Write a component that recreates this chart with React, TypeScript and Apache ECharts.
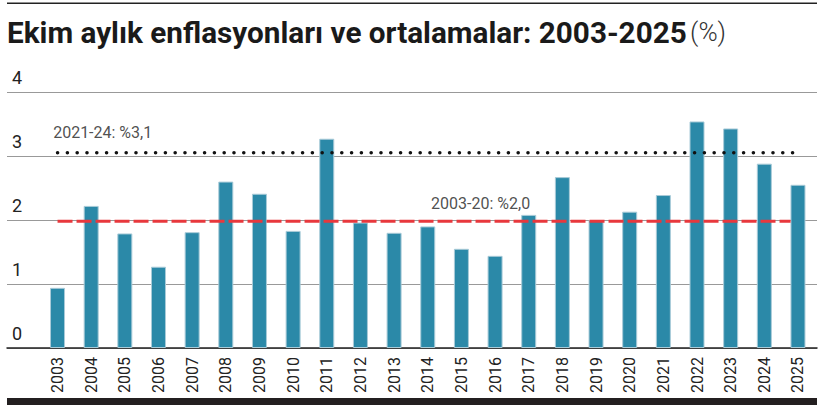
import React, { useEffect, useRef } from "react";
import * as echarts from "echarts";

const years = ["2003","2004","2005","2006","2007","2008","2009","2010","2011","2012","2013","2014","2015","2016","2017","2018","2019","2020","2021","2022","2023","2024","2025"];
const octoberInflation = [0.94, 2.22, 1.79, 1.27, 1.81, 2.60, 2.41, 1.83, 3.27, 1.96, 1.80, 1.90, 1.55, 1.44, 2.08, 2.67, 2.00, 2.13, 2.39, 3.54, 3.43, 2.88, 2.55];
const yTicks = [0, 1, 2, 3, 4];
const avg0320 = 1.98;
const avg2124 = 3.05;
const avg0320Label = "2003-20: %2,0";
const avg2124Label = "2021-24: %3,1";
// reference line extent, in category index units
const refLineStart = 0;
const refLineEnd = 21.78;
const dotLineEnd = 22.0;
// label anchors (left edge), in category index units / values
const labelPoints = [
  { coord: [-0.13, 3.37], text: avg2124Label },
  { coord: [11.1, 2.26], text: avg0320Label },
];

const FONT = "Roboto, sans-serif";

export default function App() {
  const ref = useRef<HTMLDivElement>(null);
  useEffect(() => {
    if (!ref.current) return;
    const chart = echarts.init(ref.current, null, { renderer: "svg" });
    chart.setOption({
      animation: false,
      backgroundColor: "#ffffff",
      grid: [
        { left: 7, right: 12, top: 92, bottom: 60 },
        { left: 40.7, right: 14.2, top: 92, bottom: 60 },
      ],
      xAxis: [
        {
          gridIndex: 0, type: "value", min: 0, max: 1,
          axisLine: { show: true, onZero: false, lineStyle: { color: "#222", width: 1.5 } },
          axisTick: { show: false }, axisLabel: { show: false }, splitLine: { show: false },
        },
        {
          gridIndex: 1, type: "category", data: years,
          axisLine: { show: false }, axisTick: { show: false },
          axisLabel: { rotate: 90, margin: 9, fontSize: 16, color: "#222", fontFamily: FONT },
        },
        { gridIndex: 1, type: "value", min: -0.5, max: 22.5, show: false },
      ],
      yAxis: [
        {
          gridIndex: 0, type: "value", min: yTicks[0], max: yTicks[yTicks.length - 1], interval: 1,
          axisLine: { show: false }, axisTick: { show: false },
          splitLine: { show: true, lineStyle: { color: "#999", width: 1 } },
          axisLabel: {
            inside: true, margin: 5, fontSize: 18, color: "#222", fontFamily: FONT,
            verticalAlign: "bottom", lineHeight: 18, padding: [0, 0, 6, 0],
          },
        },
        { gridIndex: 1, type: "value", min: 0, max: 4, show: false },
      ],
      series: [
        {
          type: "bar", xAxisIndex: 1, yAxisIndex: 1, data: octoberInflation,
          barWidth: 15, z: 2,
          itemStyle: { color: "#2b89a8", borderColor: "#a9cbd8", borderWidth: 1 },
        },
        {
          type: "line", xAxisIndex: 2, yAxisIndex: 1, z: 4, symbol: "none",
          data: [[refLineStart, avg0320], [refLineEnd, avg0320]],
          lineStyle: { color: "#e8383d", width: 3, type: [15, 4] },
        },
        {
          type: "line", xAxisIndex: 2, yAxisIndex: 1, z: 5, symbol: "none",
          data: [[refLineStart, avg2124], [dotLineEnd, avg2124]],
          lineStyle: { color: "#111", width: 3.5, type: [0.1, 9.7], cap: "round" },
        },
        {
          type: "scatter", xAxisIndex: 2, yAxisIndex: 1, z: 6, symbolSize: 0,
          data: labelPoints.map((p) => ({ value: p.coord, name: p.text })),
          label: {
            show: true, position: "inside", align: "left", formatter: (p: any) => p.name,
            fontSize: 16, color: "#222", fontFamily: FONT,
          },
        },
      ],
      graphic: [
        { type: "rect", shape: { x: 7, y: 2.5, width: 810, height: 1.5 }, style: { fill: "#222" } },
        { type: "rect", shape: { x: 7, y: 398, width: 810, height: 7 }, style: { fill: "#231f20" } },
        {
          type: "text", x: 7, y: 32,
          style: {
            text: "{b|Ekim aylık enflasyonları ve ortalamalar: 2003-2025} {n|(%)}",
            verticalAlign: "middle",
            rich: {
              b: { fontSize: 29.7, fontWeight: "bold", fill: "#1a1a1a", fontFamily: FONT },
              n: { fontSize: 26, fontWeight: 300, fill: "#333", fontFamily: FONT },
            },
          },
        },
      ],
    });
    return () => chart.dispose();
  }, []);
  return <div ref={ref} style={{ position: "fixed", left: 0, top: 0, width: 829, height: 408 }} />;
}
